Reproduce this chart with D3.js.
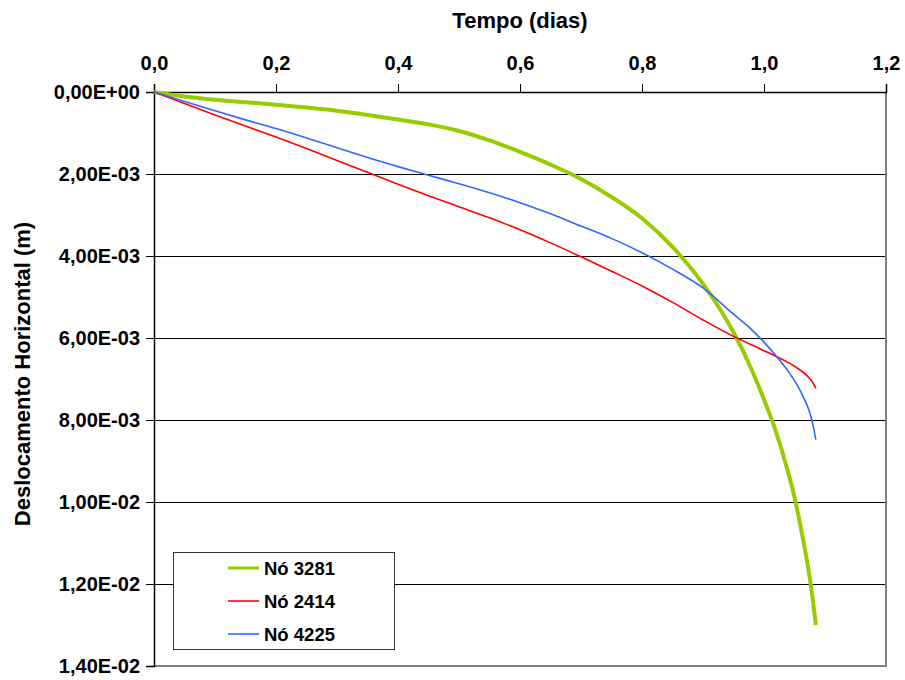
<!DOCTYPE html>
<html>
<head>
<meta charset="utf-8">
<script src="https://cdn.jsdelivr.net/npm/d3@7"></script>
<style>
  body { margin: 0; background: #fff; }
  text { font-family: "Liberation Sans", Arial, sans-serif; font-weight: bold; }
</style>
</head>
<body>
<script>
// tempo (dias) - amostras comuns às três séries
const tempo = [0, 0.05, 0.1, 0.15, 0.2, 0.25, 0.3, 0.35, 0.4, 0.45, 0.5, 0.55, 0.6, 0.65, 0.7,
  0.75, 0.8, 0.85, 0.9, 0.95, 0.98, 1.0, 1.02, 1.04, 1.05, 1.06, 1.07, 1.075, 1.08, 1.085];

// deslocamento horizontal (m)
const no3281 = [0, 0.11e-3, 0.19e-3, 0.25e-3, 0.31e-3, 0.38e-3, 0.46e-3, 0.56e-3, 0.67e-3, 0.79e-3,
  0.95e-3, 1.18e-3, 1.46e-3, 1.77e-3, 2.12e-3, 2.56e-3, 3.08e-3, 3.78e-3, 4.68e-3, 5.86e-3, 6.78e-3,
  7.5e-3, 8.3e-3, 9.3e-3, 9.88e-3, 10.6e-3, 11.4e-3, 11.85e-3, 12.38e-3, 13.0e-3];
const no2414 = [0, 0.28e-3, 0.56e-3, 0.83e-3, 1.1e-3, 1.38e-3, 1.67e-3, 1.96e-3, 2.25e-3, 2.53e-3,
  2.8e-3, 3.07e-3, 3.36e-3, 3.68e-3, 4.02e-3, 4.37e-3, 4.73e-3, 5.13e-3, 5.56e-3, 5.96e-3, 6.17e-3,
  6.31e-3, 6.45e-3, 6.6e-3, 6.69e-3, 6.79e-3, 6.91e-3, 6.99e-3, 7.09e-3, 7.23e-3];
const no4225 = [0, 0.23e-3, 0.46e-3, 0.68e-3, 0.89e-3, 1.12e-3, 1.36e-3, 1.6e-3, 1.82e-3, 2.03e-3,
  2.24e-3, 2.46e-3, 2.7e-3, 2.97e-3, 3.27e-3, 3.57e-3, 3.92e-3, 4.32e-3, 4.78e-3, 5.42e-3, 5.8e-3,
  6.1e-3, 6.44e-3, 6.82e-3, 7.04e-3, 7.3e-3, 7.62e-3, 7.82e-3, 8.1e-3, 8.48e-3];

const seriesNames = ["Nó 3281", "Nó 2414", "Nó 4225"];
const seriesColors = ["#99cc00", "#ff0000", "#3366ff"];
const seriesWidths = [4, 1.6, 1.6];

const xTicks = [0, 0.2, 0.4, 0.6, 0.8, 1.0, 1.2];
const yTicks = [0, 0.002, 0.004, 0.006, 0.008, 0.010, 0.012, 0.014];

const w = 905;
const h = 680;
const pLeft = 154, pRight = 886, pTop = 92, pBottom = 666;

const svg = d3.select("body")
  .append("svg")
  .attr("width", w)
  .attr("height", h);

const x = d3.scaleLinear().domain([0, 1.2]).range([pLeft, pRight]);
const y = d3.scaleLinear().domain([0, 0.014]).range([pTop, pBottom]);

// formato com vírgula decimal
const fmtX = d => d.toFixed(1).replace(".", ",");
const fmtY = d => {
  const [m, e] = d.toExponential(2).split("e");
  const n = parseInt(e, 10);
  return m.replace(".", ",") + "E" + (n < 0 ? "-" : "+") + String(Math.abs(n)).padStart(2, "0");
};

// linhas de grade
svg.append("g")
  .selectAll("line")
  .data(yTicks.slice(1, -1))
  .enter()
  .append("line")
  .attr("x1", pLeft)
  .attr("x2", pRight)
  .attr("y1", d => Math.round(y(d)) + 0.5)
  .attr("y2", d => Math.round(y(d)) + 0.5)
  .attr("stroke", "#000")
  .attr("stroke-width", 1);

// borda direita e inferior
svg.append("path")
  .attr("d", `M${pLeft},${pBottom}H${pRight}V${pTop}`)
  .attr("fill", "none")
  .attr("stroke", "#808080")
  .attr("stroke-width", 2);

// eixo superior
const xAxis = svg.append("g")
  .attr("transform", `translate(0,${pTop})`)
  .call(d3.axisTop(x).tickValues(xTicks).tickFormat(fmtX).tickSize(8).tickPadding(14));
xAxis.select(".domain").attr("stroke", "#000").attr("stroke-width", 1.5);
xAxis.selectAll("text").attr("font-size", 20).attr("fill", "#000")
  .attr("font-family", "'Liberation Sans', Arial, sans-serif");

// eixo esquerdo
const yAxis = svg.append("g")
  .attr("transform", `translate(${pLeft},0)`)
  .call(d3.axisLeft(y).tickValues(yTicks).tickFormat(fmtY).tickSize(8).tickPadding(6));
yAxis.select(".domain").attr("stroke", "#000").attr("stroke-width", 1.5);
yAxis.selectAll("text").attr("font-size", 20).attr("fill", "#000")
  .attr("font-family", "'Liberation Sans', Arial, sans-serif");

// títulos
svg.append("text")
  .attr("x", 520)
  .attr("y", 28)
  .attr("text-anchor", "middle")
  .attr("font-size", 22)
  .text("Tempo (dias)");

svg.append("text")
  .attr("transform", "translate(30,374) rotate(-90)")
  .attr("text-anchor", "middle")
  .attr("font-size", 22)
  .text("Deslocamento Horizontal (m)");

// curvas
const allSeries = [no3281, no2414, no4225];
const line = d3.line()
  .x(d => x(d[0]))
  .y(d => y(d[1]))
  .curve(d3.curveMonotoneX);

[0, 1, 2].forEach(i => {
  svg.append("path")
    .datum(tempo.map((t, k) => [t, allSeries[i][k]]))
    .attr("d", line)
    .attr("fill", "none")
    .attr("stroke", seriesColors[i])
    .attr("stroke-width", seriesWidths[i]);
});

// legenda
const legend = svg.append("g");
legend.append("rect")
  .attr("x", 173.5)
  .attr("y", 552.5)
  .attr("width", 221)
  .attr("height", 97)
  .attr("fill", "#fff")
  .attr("stroke", "#333")
  .attr("stroke-width", 1);

const rowY = [568, 601, 634];
seriesNames.forEach((name, i) => {
  legend.append("line")
    .attr("x1", 228)
    .attr("x2", 259)
    .attr("y1", rowY[i])
    .attr("y2", rowY[i])
    .attr("stroke", seriesColors[i])
    .attr("stroke-width", seriesWidths[i] === 4 ? 3 : 1.6);
  legend.append("text")
    .attr("x", 264)
    .attr("y", rowY[i] + 7)
    .attr("font-size", 18.5)
    .text(name);
});
</script>
</body>
</html>
